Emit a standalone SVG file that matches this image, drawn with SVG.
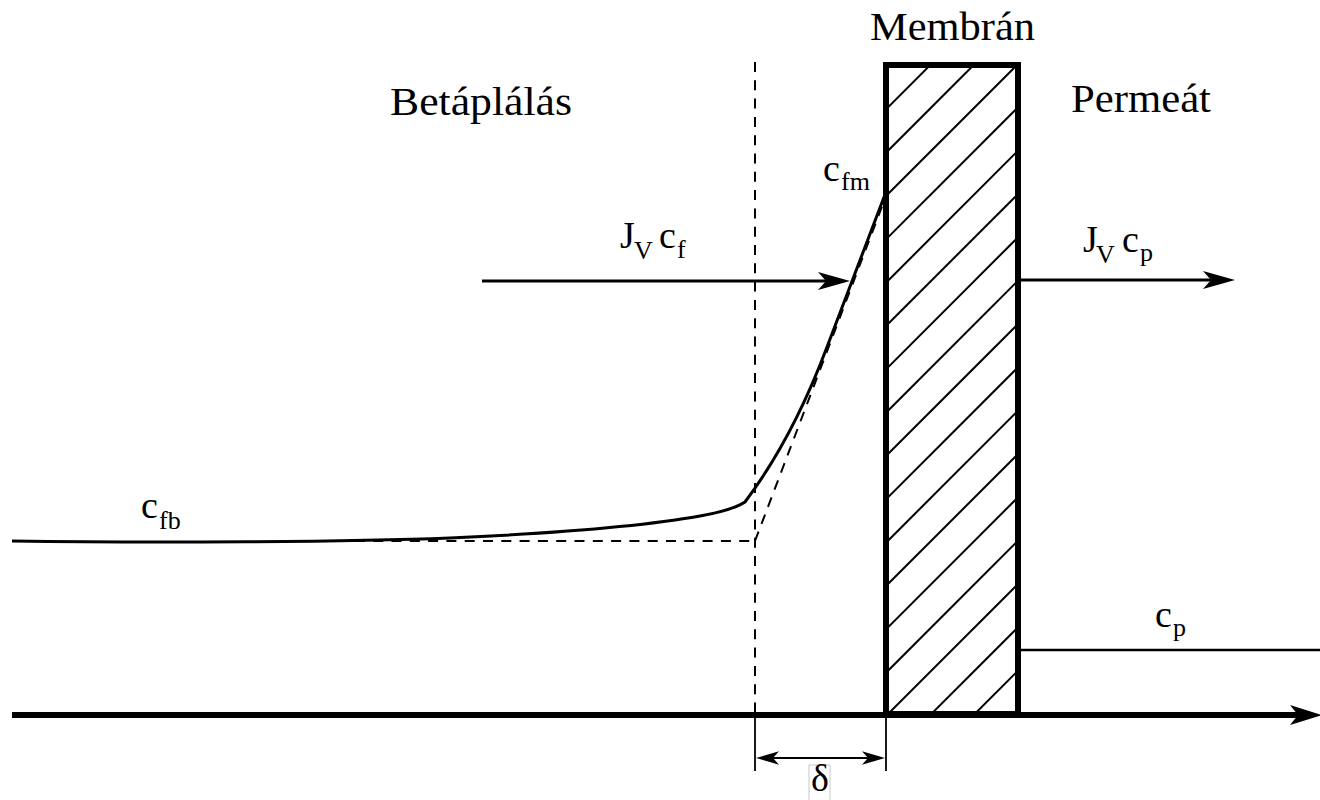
<svg xmlns="http://www.w3.org/2000/svg" width="1320" height="800" viewBox="0 0 1320 800">
  <style>
    .lbl { font-family: "Liberation Serif", "Times New Roman", serif; fill: #000; }
    .big { font-size: 40px; }
    .main { font-size: 38px; }
    .sub { font-size: 26px; }
    .solid { fill: none; stroke: #000; stroke-linecap: butt; }
    .dash { fill: none; stroke: #000; stroke-width: 2; stroke-dasharray: 10 8.3; }
    .hatch { stroke: #000; stroke-width: 2; }
  </style>
  <defs>
    <marker id="arr" markerUnits="userSpaceOnUse" markerWidth="40" markerHeight="24" refX="24" refY="12" orient="auto">
      <path d="M34,12 L2,3 L10,12 L2,21 Z" fill="#000"/>
    </marker>
    <marker id="arrSmall" markerUnits="userSpaceOnUse" markerWidth="30" markerHeight="16" refX="20" refY="8" orient="auto-start-reverse">
      <path d="M24,8 L1,1.3 L7,8 L1,14.7 Z" fill="#000"/>
    </marker>
    <marker id="arrAxis" markerUnits="userSpaceOnUse" markerWidth="40" markerHeight="26" refX="20" refY="13" orient="auto">
      <path d="M34,13 L2,3 L10,13 L2,23 Z" fill="#000"/>
    </marker>
    <clipPath id="memClip">
      <rect x="886" y="65" width="132" height="649"/>
    </clipPath>
  </defs>

  <g id="membrane">
    <g clip-path="url(#memClip)">
      <line class="hatch" x1="886" y1="109.3" x2="1018" y2="-22.7"/>
      <line class="hatch" x1="886" y1="152.7" x2="1018" y2="20.7"/>
      <line class="hatch" x1="886" y1="196" x2="1018" y2="64"/>
      <line class="hatch" x1="886" y1="239.3" x2="1018" y2="107.3"/>
      <line class="hatch" x1="886" y1="282.7" x2="1018" y2="150.7"/>
      <line class="hatch" x1="886" y1="326" x2="1018" y2="194"/>
      <line class="hatch" x1="886" y1="369.3" x2="1018" y2="237.3"/>
      <line class="hatch" x1="886" y1="412.7" x2="1018" y2="280.7"/>
      <line class="hatch" x1="886" y1="456" x2="1018" y2="324"/>
      <line class="hatch" x1="886" y1="499.3" x2="1018" y2="367.3"/>
      <line class="hatch" x1="886" y1="542.7" x2="1018" y2="410.7"/>
      <line class="hatch" x1="886" y1="586" x2="1018" y2="454"/>
      <line class="hatch" x1="886" y1="629.3" x2="1018" y2="497.3"/>
      <line class="hatch" x1="886" y1="672.7" x2="1018" y2="540.7"/>
      <line class="hatch" x1="886" y1="716" x2="1018" y2="584"/>
      <line class="hatch" x1="886" y1="759.3" x2="1018" y2="627.3"/>
      <line class="hatch" x1="886" y1="802.7" x2="1018" y2="670.7"/>
    </g>
    <rect x="886" y="65" width="132" height="649" fill="none" stroke="#000" stroke-width="6"/>
  </g>

  <g id="connectors">
    <!-- boundary layer edge (dashed) -->
    <line class="dash" x1="755" y1="62" x2="755" y2="714"/>
    <!-- linear approximation (dashed) -->
    <line class="dash" x1="300" y1="541" x2="755" y2="541"/>
    <line class="dash" x1="755" y1="541" x2="886" y2="196"/>
    <!-- concentration profile -->
    <path class="solid" stroke-width="3" stroke-linejoin="round" d="M12,541 C150,543 350,542 450,538 C560,533 650,525 700,516 C722,512 736,508 745,502 Q792.9,438.1 827,347 L885,194.5"/>
    <!-- permeate concentration -->
    <line class="solid" stroke-width="2.5" x1="1018" y1="650" x2="1320" y2="650"/>
    <!-- flux arrows -->
    <line class="solid" stroke-width="3" x1="482" y1="281" x2="840" y2="281" marker-end="url(#arr)"/>
    <line class="solid" stroke-width="3" x1="1018" y1="280" x2="1225" y2="280" marker-end="url(#arr)"/>
    <!-- axis -->
    <line class="solid" stroke-width="6" x1="12" y1="715" x2="1308" y2="715" marker-end="url(#arrAxis)"/>
    <!-- delta dimension -->
    <line class="solid" stroke-width="1.8" x1="755" y1="714" x2="755" y2="771"/>
    <line class="solid" stroke-width="1.8" x1="886" y1="714" x2="886" y2="771"/>
    <line class="solid" stroke-width="1.8" x1="760" y1="758" x2="881" y2="758" marker-start="url(#arrSmall)" marker-end="url(#arrSmall)"/>
  </g>

  <g id="labels">
    <text class="lbl big" x="870" y="40" textLength="165" lengthAdjust="spacingAndGlyphs">Membrán</text>
    <text class="lbl big" x="390" y="115" textLength="182" lengthAdjust="spacingAndGlyphs">Betáplálás</text>
    <text class="lbl big" x="1071" y="111.5" textLength="140" lengthAdjust="spacingAndGlyphs">Permeát</text>

    <text class="lbl main" x="620" y="248">J</text>
    <text class="lbl sub" x="634" y="259">V</text>
    <text class="lbl main" x="659" y="248">c</text>
    <text class="lbl sub" x="677" y="258">f</text>

    <text class="lbl main" x="1083" y="252">J</text>
    <text class="lbl sub" x="1096" y="263">V</text>
    <text class="lbl main" x="1122" y="252">c</text>
    <text class="lbl sub" x="1140" y="261">p</text>

    <text class="lbl main" x="823" y="181">c</text>
    <text class="lbl sub" x="841" y="190">fm</text>

    <text class="lbl main" x="141" y="518">c</text>
    <text class="lbl sub" x="159" y="529">fb</text>

    <text class="lbl main" x="1155" y="627">c</text>
    <text class="lbl sub" x="1173" y="636">p</text>

    <rect x="809" y="765" width="21" height="37" fill="none" stroke="#c8c8c8" stroke-width="1"/>
    <text class="lbl" x="820" y="791" font-size="38" text-anchor="middle">δ</text>
  </g>
</svg>
